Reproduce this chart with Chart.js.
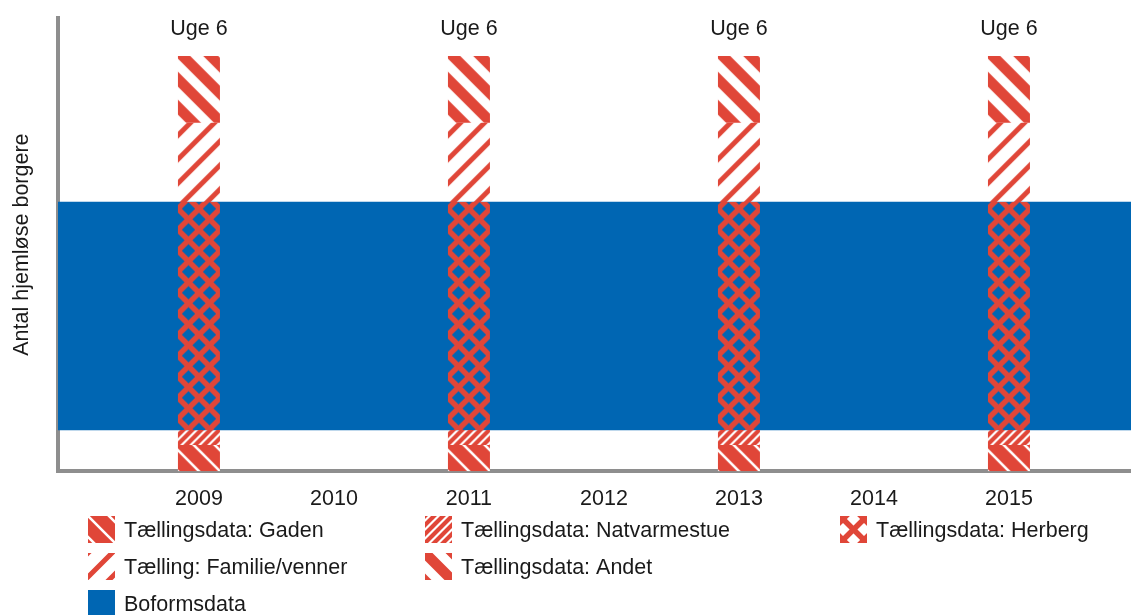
<!DOCTYPE html>
<html><head><meta charset="utf-8">
<script src="https://cdn.jsdelivr.net/npm/chart.js@4/dist/chart.umd.min.js"></script>
<style>html,body{margin:0;padding:0;background:#fff}#wrap{width:1131px;height:615px;position:relative}canvas{display:block}</style>
</head><body><div id="wrap"><canvas id="c" width="1131" height="615"></canvas></div>
<script>
// ---- data ----
const yearTicks = [2009, 2010, 2011, 2012, 2013, 2014, 2015];
const yearLabels = ['2009', '2010', '2011', '2012', '2013', '2014', '2015'];
const countYears = [2009, 2011, 2013, 2015];
const countWeekLabels = ['Uge 6', 'Uge 6', 'Uge 6', 'Uge 6'];
const gaden = [5.8, 5.8, 5.8, 5.8];
const natvarmestue = [3.3, 3.3, 3.3, 3.3];
const herberg = [50.3, 50.3, 50.3, 50.3];
const familieVenner = [17.5, 17.5, 17.5, 17.5];
const andet = [14.7, 14.7, 14.7, 14.7];
const boformsdata = [9.1, 59.4];
const seriesNames = ['Tællingsdata: Gaden', 'Tællingsdata: Natvarmestue', 'Tællingsdata: Herberg',
  'Tælling: Familie/venner', 'Tællingsdata: Andet', 'Boformsdata'];
const yTitle = 'Antal hjemløse borgere';

// ---- styles ----
const RED = '#e04638';
const BLUE = '#0066b3';
const AXIS = '#8e8e8e';
const TXT = '#1a1a1a';
const FONT = 'Liberation Sans, Arial, sans-serif';
const BAR_W = 42;

function tile(s, draw) {
  const c = document.createElement('canvas');
  c.width = s; c.height = s;
  const g = c.getContext('2d');
  draw(g, s);
  return c;
}
function lines(g, s, p, dir) {
  g.beginPath();
  for (let c = -2 * s; c <= 3 * s; c += p) {
    if (dir === '\\') { g.moveTo(c - s, -s); g.lineTo(c + 2 * s, 2 * s); }
    else { g.moveTo(c + s, -s); g.lineTo(c - 2 * s, 2 * s); }
  }
  g.stroke();
}
const tiles = {
  gaden: tile(21, (g, s) => { g.fillStyle = RED; g.fillRect(0, 0, s, s); g.strokeStyle = '#fff'; g.lineWidth = 2.6; lines(g, s, 21, '\\'); }),
  natv: tile(9, (g, s) => { g.strokeStyle = RED; g.lineWidth = 4.2; lines(g, s, 9, '/'); }),
  herberg: tile(21, (g, s) => { g.strokeStyle = RED; g.lineWidth = 5.5; lines(g, s, 21, '\\'); lines(g, s, 21, '/'); }),
  familie: tile(24, (g, s) => { g.strokeStyle = RED; g.lineWidth = 5; lines(g, s, 24, '/'); }),
  andet: tile(28, (g, s) => { g.strokeStyle = RED; g.lineWidth = 10.6; lines(g, s, 28, '\\'); })
};
const yShift = { gaden: 0, natv: 0, herberg: 10.5, familie: 0, andet: 0 };
const pctx = document.createElement('canvas').getContext('2d');
function pat(name, ox, oy) {
  const p = pctx.createPattern(tiles[name], 'repeat');
  p.setTransform(new DOMMatrix().translate(ox, oy + yShift[name]));
  return p;
}
function barFill(name) {
  return (c) => {
    const ch = c.chart;
    if (c.type !== 'data' || !ch.scales.x || !ch.chartArea) return RED;
    const left = ch.scales.x.getPixelForValue(countYears[c.dataIndex]) - BAR_W / 2;
    return pat(name, left, ch.chartArea.bottom);
  };
}
const patternKeys = ['gaden', 'natv', 'herberg', 'familie', 'andet'];
const seriesValues = [gaden, natvarmestue, herberg, familieVenner, andet];

const datasets = seriesValues.map((vals, i) => ({
  label: seriesNames[i],
  data: countYears.map((yr, j) => ({ x: yr, y: vals[j] })),
  backgroundColor: barFill(patternKeys[i]),
  xAxisID: 'x', yAxisID: 'y',
  grouped: false,
  maxBarThickness: BAR_W,
  borderWidth: 0
}));
datasets.push({
  label: seriesNames[5],
  data: [boformsdata],
  backgroundColor: BLUE,
  xAxisID: 'x2', yAxisID: 'y',
  grouped: false,
  barPercentage: 1, categoryPercentage: 1,
  borderWidth: 0
});

const labelPlugin = {
  id: 'weekLabels',
  afterDatasetsDraw(chart) {
    const meta = chart.getDatasetMeta(4);
    const ctx = chart.ctx;
    ctx.save();
    ctx.font = '21.5px ' + FONT;
    ctx.fillStyle = TXT;
    ctx.textAlign = 'center';
    ctx.textBaseline = 'middle';
    meta.data.forEach((el, i) => ctx.fillText(countWeekLabels[i], el.x, el.y - 27));
    ctx.restore();
  }
};

// legend grid: [column, row] for each series
const legendSlots = [[0, 0], [1, 0], [2, 0], [0, 1], [1, 1], [0, 2]];
const legendCols = [88, 425, 840];
const legendSwatchShift = [0, 0, 3, 0, 0, 0];
const legendRowTop = 516, legendRowStep = 37, SW = 27;
const legendPlugin = {
  id: 'gridLegend',
  afterDraw(chart) {
    const ctx = chart.ctx;
    ctx.save();
    ctx.font = '21.5px ' + FONT;
    ctx.textBaseline = 'middle';
    ctx.textAlign = 'left';
    seriesNames.forEach((name, i) => {
      const [col, row] = legendSlots[i];
      const x = legendCols[col], y = legendRowTop + row * legendRowStep;
      const sh = legendSwatchShift[i];
      ctx.fillStyle = i < 5 ? pat(patternKeys[i], x + sh, y + sh - (i === 2 ? 10.5 : 0)) : BLUE;
      ctx.fillRect(x, y, SW, SW);
      ctx.fillStyle = TXT;
      ctx.fillText(name, x + 36, y + SW / 2 + 1.5);
    });
    ctx.restore();
  }
};

new Chart(document.getElementById('c'), {
  type: 'bar',
  data: { datasets },
  options: {
    responsive: false,
    animation: false,
    devicePixelRatio: 1,
    layout: { padding: { left: 0, top: 18, right: 0, bottom: 88 } },
    plugins: { legend: { display: false }, tooltip: { enabled: false } },
    scales: {
      x: {
        type: 'linear', position: 'bottom', stacked: true, offset: false,
        min: 2007.956, max: 2015.904,
        afterBuildTicks: (s) => { s.ticks = yearTicks.map(v => ({ value: v })); },
        ticks: {
          autoSkip: false, maxRotation: 0, padding: 15, color: TXT,
          font: { family: FONT, size: 21.5 },
          callback: (v) => yearLabels[yearTicks.indexOf(v)]
        },
        grid: { display: false, drawTicks: false },
        border: { display: true, color: AXIS, width: 4 }
      },
      x2: {
        type: 'category', labels: ['Boformsdata'], display: false, offset: true, stacked: true
      },
      y: {
        type: 'linear', stacked: true, min: 0, max: 100,
        ticks: { display: false },
        grid: { display: false, drawTicks: false },
        border: { display: true, color: AXIS, width: 4 },
        title: { display: true, text: yTitle, color: TXT, font: { family: FONT, size: 21.5 }, padding: { top: 9, bottom: 23.2 } }
      }
    }
  },
  plugins: [labelPlugin, legendPlugin]
});
</script></body></html>
